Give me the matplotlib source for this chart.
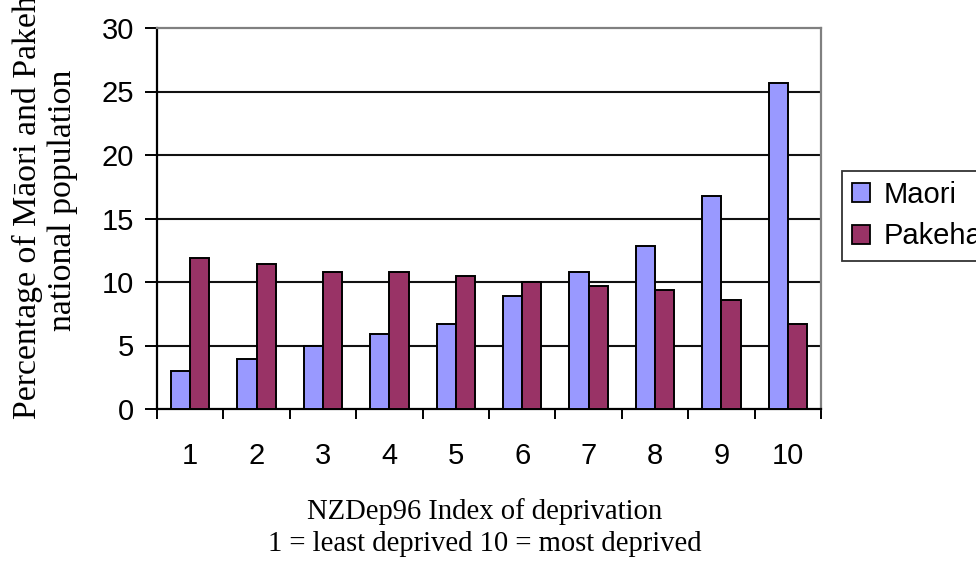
import matplotlib.pyplot as plt
from matplotlib.patches import Patch

# data
deciles = [1, 2, 3, 4, 5, 6, 7, 8, 9, 10]
maori = [3.0, 3.9, 5.0, 5.9, 6.7, 8.9, 10.8, 12.8, 16.8, 25.7]
pakeha = [11.9, 11.4, 10.8, 10.8, 10.5, 10.0, 9.7, 9.4, 8.6, 6.7]
series_names = ['Maori', 'Pakeha']
y_ticks = [0, 5, 10, 15, 20, 25, 30]

maori_color = '#9999FF'
pakeha_color = '#993366'
sans = 'Liberation Sans'
serif = 'Liberation Serif'

fig = plt.figure(figsize=(9.76, 5.64), dpi=100)
ax = fig.add_axes([157 / 976, 1 - 409 / 564, 664 / 976, 381 / 564])

w = 0.29
xs = list(range(len(deciles)))
ax.bar([x + 1 - w / 2 for x in xs], maori, width=w, color=maori_color,
       edgecolor='black', linewidth=1.4, zorder=3)
ax.bar([x + 1 + w / 2 for x in xs], pakeha, width=w, color=pakeha_color,
       edgecolor='black', linewidth=1.4, zorder=3)

ax.set_xlim(0.5, 10.5)
ax.set_ylim(0, 30)

# gridlines
for v in y_ticks[1:-1]:
    ax.axhline(v, color='#111111', linewidth=1.5, zorder=1)

ax.set_yticks(y_ticks)
ax.set_yticklabels([str(v) for v in y_ticks], fontfamily=sans, fontsize=21)
ax.set_xticks(deciles)
ax.set_xticklabels([str(d) for d in deciles], fontfamily=sans, fontsize=21)
ax.set_xticks([d + 0.5 for d in [0] + deciles], minor=True)
ax.tick_params(axis='x', which='major', length=0, pad=24)
ax.tick_params(axis='x', which='minor', length=7, width=1.4, direction='out')
ax.tick_params(axis='y', length=8.5, width=1.4, direction='out', pad=8)

for side in ('left', 'bottom'):
    ax.spines[side].set_color('black')
    ax.spines[side].set_linewidth(1.6)
for side in ('top', 'right'):
    ax.spines[side].set_color('#808080')
    ax.spines[side].set_linewidth(1.6)
ax.set_zorder(2)

fig.text(45 / 976, 1 - 200 / 564,
         'Percentage of M\u0101ori and Pakeha\nnational population',
         rotation=90, ha='center', va='center', multialignment='center',
         family=serif, fontsize=24.3, linespacing=1.22)
fig.text(485 / 976, 1 - 528 / 564,
         'NZDep96 Index of deprivation\n1 = least deprived 10 = most deprived',
         ha='center', va='center', multialignment='center',
         family=serif, fontsize=20.6, linespacing=1.3)

handles = [Patch(facecolor=maori_color, edgecolor='black', linewidth=1.3),
           Patch(facecolor=pakeha_color, edgecolor='black', linewidth=1.3)]
leg = fig.legend(handles, series_names, loc='upper left',
                 bbox_to_anchor=(842 / 976, 1 - 171 / 564),
                 prop={'family': sans, 'size': 21}, frameon=True,
                 fancybox=False, edgecolor='black', handlelength=0.62,
                 handleheight=0.62, handletextpad=0.45, borderpad=0.35,
                 labelspacing=0.45, borderaxespad=0)
leg.get_frame().set_linewidth(1.3)

fig.savefig('out.png', dpi=100)
